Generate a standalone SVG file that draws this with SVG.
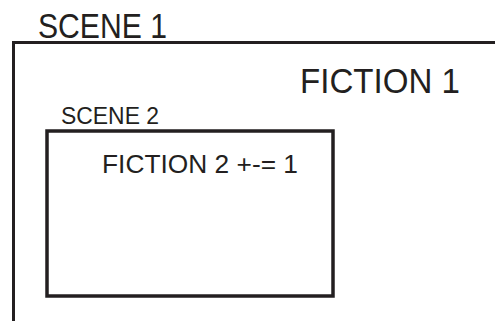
<svg xmlns="http://www.w3.org/2000/svg" width="495" height="321" viewBox="0 0 495 321">
<style>
.frame{fill:none;stroke:#231f20;stroke-linecap:square}
.lbl{font-family:"Liberation Sans","DejaVu Sans",sans-serif;fill:#231f20}
</style>
<rect x="0" y="0" width="495" height="321" fill="#ffffff"/>
<g id="scene1">
<path class="frame" d="M13.5,322 V42.5 H496" stroke-width="3"/>
<text class="lbl" x="38" y="37.5" font-size="35" textLength="129" lengthAdjust="spacingAndGlyphs">SCENE 1</text>
<text class="lbl" x="300" y="93" font-size="35" textLength="160" lengthAdjust="spacingAndGlyphs">FICTION 1</text>
</g>
<g id="scene2">
<rect class="frame" x="47" y="131" width="286" height="165" stroke-width="3.5"/>
<text class="lbl" x="61" y="124" font-size="24" textLength="98" lengthAdjust="spacingAndGlyphs">SCENE 2</text>
<text class="lbl" x="102" y="173" font-size="25" textLength="196" lengthAdjust="spacingAndGlyphs">FICTION 2 +-= 1</text>
</g>
<g id="connectors"/>
</svg>
